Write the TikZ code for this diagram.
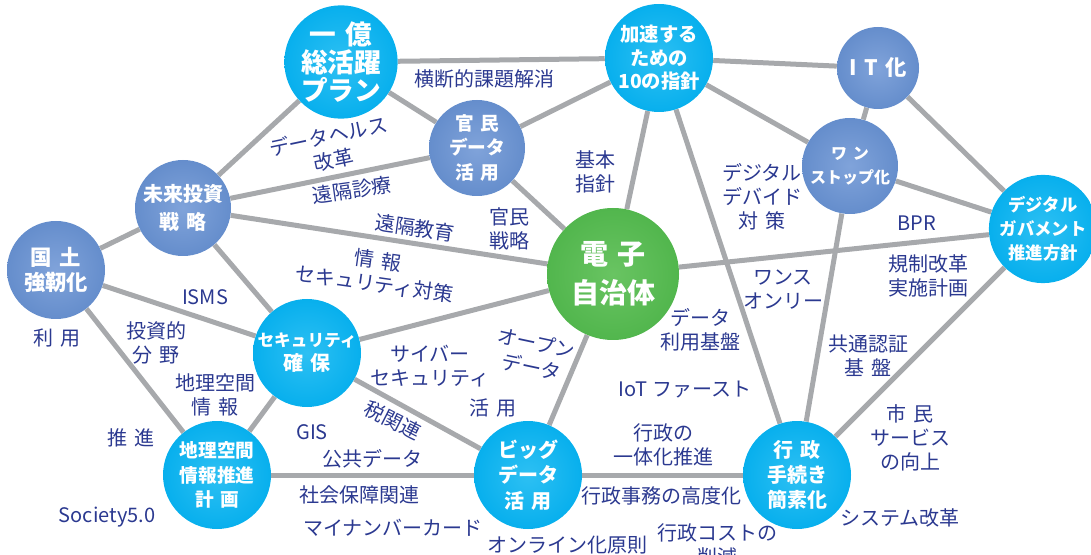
\documentclass[tikz,border=0pt]{standalone}
\usepackage{fontspec}
\setmainfont{Noto Sans CJK JP}
\usetikzlibrary{backgrounds}
\definecolor{linegray}{RGB}{167,169,172}
\definecolor{navy}{RGB}{43,57,144}
\definecolor{cyanIn}{RGB}{45,192,243}
\definecolor{cyanOut}{RGB}{0,172,236}
\definecolor{steelIn}{RGB}{128,163,218}
\definecolor{steelOut}{RGB}{74,120,190}
\definecolor{greenIn}{RGB}{105,196,98}
\definecolor{greenOut}{RGB}{58,168,56}
\pgfdeclareradialshading{cyanball}{\pgfpoint{0bp}{0bp}}{color(0bp)=(cyanIn); color(30bp)=(cyanOut); color(100bp)=(cyanOut)}
\pgfdeclareradialshading{steelball}{\pgfpoint{0bp}{0bp}}{color(0bp)=(steelIn); color(50bp)=(steelOut); color(100bp)=(steelOut)}
\pgfdeclareradialshading{greenball}{\pgfpoint{0bp}{0bp}}{color(0bp)=(greenIn); color(50bp)=(greenOut); color(100bp)=(greenOut)}
\newcommand{\jsp}{\hspace{0.35em}}
\newcommand{\fs}[2]{\fontsize{#1}{#2}\selectfont}
\begin{document}
\begin{tikzpicture}[x=0.75pt,y=-0.75pt,
  link/.style={draw=linegray, line width=3.75pt},
  ball/.style={circle, inner sep=0pt, text=white, align=center},
  cball/.style={ball, shading=cyanball, minimum size=#1},
  sball/.style={ball, shading=steelball, minimum size=#1},
  gball/.style={ball, shading=greenball, minimum size=#1},
  lbl/.style={text=navy, font=\fs{15}{18}, align=center, inner sep=0pt}]
\useasboundingbox (0,0) rectangle (1091,555);
% main nodes
\node[cball=81pt, font=\fs{20}{21}\bfseries] (ichioku) at (341,62) {一\jsp{}億\\総活躍\\プラン};
\node[cball=81pt, font=\fs{14.5}{17.5}\bfseries] (kasoku) at (659,58) {加速する\\ための\\10の指針};
\node[sball=61.5pt, font=\fs{16}{18}\bfseries] (itka) at (878,68) {I\jsp{}T\jsp{}化};
\node[sball=72pt, font=\fs{12}{18}\bfseries] (onestop) at (850,166) {ワ\jsp{}ン\\ストップ化};
\node[cball=81pt, font=\fs{13}{18}\bfseries] (digital) at (1043,229) {デジタル\\ガバメント\\推進方針};
\node[sball=72pt, font=\fs{14}{18.5}\bfseries] (kanmin) at (477,148) {官\jsp{}民\\データ\\活\jsp{}用};
\node[sball=72pt, font=\fs{15}{21}\bfseries] (mirai) at (183,208) {未来投資\\戦\jsp{}略};
\node[sball=73.5pt, font=\fs{16}{19}\bfseries] (kokudo) at (56,270) {国\jsp{}土\\強靭化};
\node[gball=99pt, font=\fs{21}{29}\bfseries] (denshi) at (613,274) {電\jsp{}子\\自治体};
\node[cball=81pt, font=\fs{12.5}{18}\bfseries] (security) at (307,353) {セキュリティ\\{\fs{15}{18}確\jsp{}保}};
\node[cball=81pt, font=\fs{14}{18.5}\bfseries] (chiri) at (217,475) {地理空間\\情報推進\\計\jsp{}画};
\node[cball=81pt, font=\fs{15}{19}\bfseries] (bigdata) at (528,475) {ビッグ\\データ\\活\jsp{}用};
\node[cball=81pt, font=\fs{15}{18.5}\bfseries] (gyosei) at (797,475) {行\jsp{}政\\手続き\\簡素化};
% connectors
\begin{pgfonlayer}{background}
\draw[link] (ichioku) -- (kasoku);
\draw[link] (ichioku) -- (mirai);
\draw[link] (ichioku) -- (kanmin);
\draw[link] (kasoku) -- (kanmin);
\draw[link] (kasoku) -- (itka);
\draw[link] (kasoku) -- (onestop);
\draw[link] (kasoku) -- (denshi);
\draw[link] (kasoku) -- (gyosei);
\draw[link] (itka) -- (onestop);
\draw[link] (itka) -- (digital);
\draw[link] (onestop) -- (digital);
\draw[link] (onestop) -- (gyosei);
\draw[link] (digital) -- (denshi);
\draw[link] (digital) -- (gyosei);
\draw[link] (kanmin) -- (mirai);
\draw[link] (kanmin) -- (denshi);
\draw[link] (mirai) -- (denshi);
\draw[link] (mirai) -- (kokudo);
\draw[link] (mirai) -- (security);
\draw[link] (kokudo) -- (security);
\draw[link] (kokudo) -- (chiri);
\draw[link] (security) -- (chiri);
\draw[link] (security) -- (denshi);
\draw[link] (security) -- (bigdata);
\draw[link] (chiri) -- (bigdata);
\draw[link] (bigdata) -- (denshi);
\draw[link] (bigdata) -- (gyosei);
\end{pgfonlayer}
% labels
\node[lbl] (l1) at (484,79) {横断的課題解消};
\node[lbl, rotate=12] (l2) at (331,148) {データヘルス\\改革};
\node[lbl, rotate=8] (l3) at (352,190) {遠隔診療};
\node[lbl, rotate=-8] (l4) at (415,228) {遠隔教育};
\node[lbl, rotate=-8] (l5) at (376,272) {情\jsp{}報\\セキュリティ対策};
\node[lbl] (l6) at (509,229) {官民\\戦略};
\node[lbl] (l7) at (595,172) {基本\\指針};
\node[lbl] (l8) at (762,197) {デジタル\\デバイド\\対\jsp{}策};
\node[lbl] (l9) at (917,223) {BPR};
\node[lbl] (l10) at (928,276) {規制改革\\実施計画};
\node[lbl] (l11) at (783,290) {ワンス\\オンリー};
\node[lbl] (l12) at (700,330) {データ\\利用基盤};
\node[lbl] (l13) at (685,390) {IoT ファースト};
\node[lbl] (l14) at (868,356) {共通認証\\基\jsp{}盤};
\node[lbl] (l15) at (910,438) {市\jsp{}民\\サービス\\の向上};
\node[lbl] (l16) at (900,518) {システム改革};
\node[lbl] (l17) at (663,445) {行政の\\一体化推進};
\node[lbl] (l18) at (661,496) {行政事務の高度化};
\node[lbl] (l19) at (717,545) {行政コストの\\削減};
\node[lbl] (l20) at (567,545) {オンライン化原則};
\node[lbl] (l21) at (393,528) {マイナンバーカード};
\node[lbl] (l22) at (359,495) {社会保障関連};
\node[lbl] (l23) at (372,459) {公共データ};
\node[lbl] (l24) at (312,432) {GIS};
\node[lbl, rotate=-27] (l25) at (393,420) {税関連};
\node[lbl] (l26) at (430,366) {サイバー\\セキュリティ};
\node[lbl, rotate=-12] (l27) at (534,355) {オープン\\データ};
\node[lbl] (l28) at (493,408) {活\jsp{}用};
\node[lbl] (l29) at (215,395) {地理空間\\情\jsp{}報};
\node[lbl] (l30) at (156,343) {投資的\\分\jsp{}野};
\node[lbl] (l31) at (131,438) {推\jsp{}進};
\node[lbl] (l32) at (57,338) {利\jsp{}用};
\node[lbl] (l33) at (205,297) {ISMS};
\node[lbl] (l34) at (107,517) {Society5.0};
\end{tikzpicture}
\end{document}
